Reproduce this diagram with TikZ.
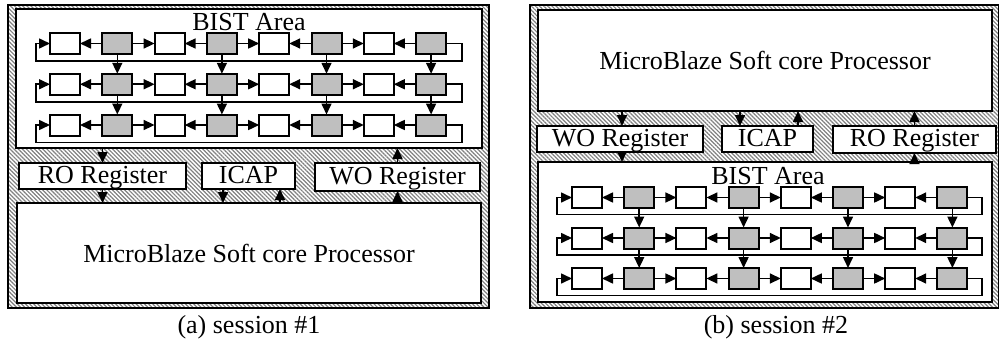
\documentclass[tikz,border=0pt]{standalone}
\usepackage{fontspec}
\setmainfont{Liberation Serif}
\usetikzlibrary{arrows.meta,patterns.meta}
\tikzset{
  txt/.style={font=\fontsize{26pt}{30pt}\selectfont},
  frame/.style={draw=black, line width=1.4pt, inner sep=0pt, outer sep=0pt,
    pattern={Lines[angle=-45,distance=2.9pt,line width=1.2pt]}, pattern color=black!50},
  blk/.style={draw=black, line width=2pt, fill=white, inner sep=0pt, outer sep=0pt, txt},
  reg/.style={blk, text height=19pt, text depth=5pt},
  wcell/.style={draw=black, line width=2pt, fill=white, minimum width=30pt, minimum height=21pt, inner sep=0pt, outer sep=0pt},
  gcell/.style={wcell, fill=black!25},
  arr/.style={line width=1.6pt, -{Triangle[length=11pt 0 0,width=10pt 0 0]}},
}
\begin{document}
\begin{tikzpicture}[x=1pt,y=-1pt]
\useasboundingbox (0,0) rectangle (999,340);
%% ---------------- panel (a) ----------------
\node[frame, minimum width=481pt, minimum height=303pt] (outA) at (248.5,156.5) {};
\node[blk, minimum width=466pt, minimum height=139pt] (bistA) at (249,78.5) {};
\node[txt, anchor=base] (bistlabA) at (249,30) {BIST Area};
\node[reg, minimum width=167pt, minimum height=26pt] (roA) at (102.5,176) {RO Register};
\node[reg, minimum width=93pt, minimum height=26pt] (icapA) at (248.5,176) {ICAP};
\node[reg, minimum width=165pt, minimum height=28pt] (woA) at (397.5,177) {WO Register};
\node[blk, minimum width=464pt, minimum height=100pt] (mbA) at (249,253) {MicroBlaze Soft core Processor};
\foreach \r in {1,2,3}{
  \pgfmathsetmacro{\yy}{43.5+40.75*(\r-1)}
  \foreach \c in {1,...,8}{
    \pgfmathsetmacro{\xx}{65+52.3*(\c-1)}
    \pgfmathparse{int(mod(\c,2))}
    \ifnum\pgfmathresult=1
      \node[wcell] (cA-\r-\c) at (\xx,\yy) {};
    \else
      \node[gcell] (cA-\r-\c) at (\xx,\yy) {};
    \fi
  }
  \coordinate (lrA-\r) at (462,\yy+17.5);
  \coordinate (llA-\r) at (36,\yy+17.5);
}
\foreach \r in {1,2,3}{
  \foreach \c/\p/\n in {2/1/3,4/3/5,6/5/7}{
    \draw[arr] (cA-\r-\c.west) -- (cA-\r-\p.east);
    \draw[arr] (cA-\r-\c.east) -- (cA-\r-\n.west);
  }
  \draw[arr] (cA-\r-8.west) -- (cA-\r-7.east);
  \draw[arr] (cA-\r-8.east) -| (lrA-\r) -- (llA-\r) |- (cA-\r-1.west);
}
\foreach \r/\s in {1/2,2/3}{
  \foreach \c in {2,4,6,8}{
    \draw[arr] (cA-\r-\c.south) -- (cA-\s-\c.north);
  }
}
\draw[arr] (bistA.south -| roA.north) -- (roA.north);
\draw[arr] (roA.south) -- (roA.south |- mbA.north);
\draw[arr] ([xshift=-25.5pt]icapA.south) -- ([xshift=-25.5pt]icapA.south |- mbA.north);
\draw[arr] ([xshift=31.5pt]icapA.south |- mbA.north) -- ([xshift=31.5pt]icapA.south);
\draw[arr] (woA.south |- mbA.north) -- (woA.south);
\draw[arr] (woA.north) -- (woA.north |- bistA.south);
\node[txt, anchor=base] (capA) at (249,333) {(a) session \#1};
%% ---------------- panel (b) ----------------
\node[frame, minimum width=469pt, minimum height=303pt] (outB) at (764.5,156.5) {};
\node[blk, minimum width=454pt, minimum height=101pt] (mbB) at (765,60.5) {MicroBlaze Soft core Processor};
\node[reg, minimum width=166pt, minimum height=26pt] (woB) at (620,139) {WO Register};
\node[reg, minimum width=91pt, minimum height=26pt] (icapB) at (767.5,139) {ICAP};
\node[reg, minimum width=163pt, minimum height=27pt] (roB) at (914.5,139.5) {RO Register};
\node[blk, minimum width=454pt, minimum height=140pt] (bistB) at (765,232) {};
\node[txt, anchor=base] (bistlabB) at (768,184) {BIST Area};
\foreach \r in {1,2,3}{
  \pgfmathsetmacro{\yy}{197.5+40.5*(\r-1)}
  \foreach \c in {1,...,8}{
    \pgfmathsetmacro{\xx}{587+52.2*(\c-1)}
    \pgfmathparse{int(mod(\c,2))}
    \ifnum\pgfmathresult=1
      \node[wcell] (cB-\r-\c) at (\xx,\yy) {};
    \else
      \node[gcell] (cB-\r-\c) at (\xx,\yy) {};
    \fi
  }
  \coordinate (lrB-\r) at (982,\yy+17);
  \coordinate (llB-\r) at (557,\yy+17);
}
\foreach \r in {1,2,3}{
  \foreach \c/\p/\n in {2/1/3,4/3/5,6/5/7}{
    \draw[arr] (cB-\r-\c.west) -- (cB-\r-\p.east);
    \draw[arr] (cB-\r-\c.east) -- (cB-\r-\n.west);
  }
  \draw[arr] (cB-\r-8.west) -- (cB-\r-7.east);
  \draw[arr] (cB-\r-8.east) -| (lrB-\r) -- (llB-\r) |- (cB-\r-1.west);
}
\foreach \r/\s in {1/2,2/3}{
  \foreach \c in {2,4,6,8}{
    \draw[arr] (cB-\r-\c.south) -- (cB-\s-\c.north);
  }
}
\draw[arr] ([xshift=2pt]mbB.south -| woB.north) -- ([xshift=2pt]woB.north);
\draw[arr] ([xshift=2pt]woB.south) -- ([xshift=2pt]woB.south |- bistB.north);
\draw[arr] ([xshift=-27.5pt]icapB.north |- mbB.south) -- ([xshift=-27.5pt]icapB.north);
\draw[arr] ([xshift=30.5pt]icapB.north) -- ([xshift=30.5pt]icapB.north |- mbB.south);
\draw[arr] (roB.north) -- (roB.north |- mbB.south);
\draw[arr] (bistB.north -| roB.south) -- (roB.south);
\node[txt, anchor=base] (capB) at (776,333) {(b) session \#2};
\end{tikzpicture}
\end{document}
